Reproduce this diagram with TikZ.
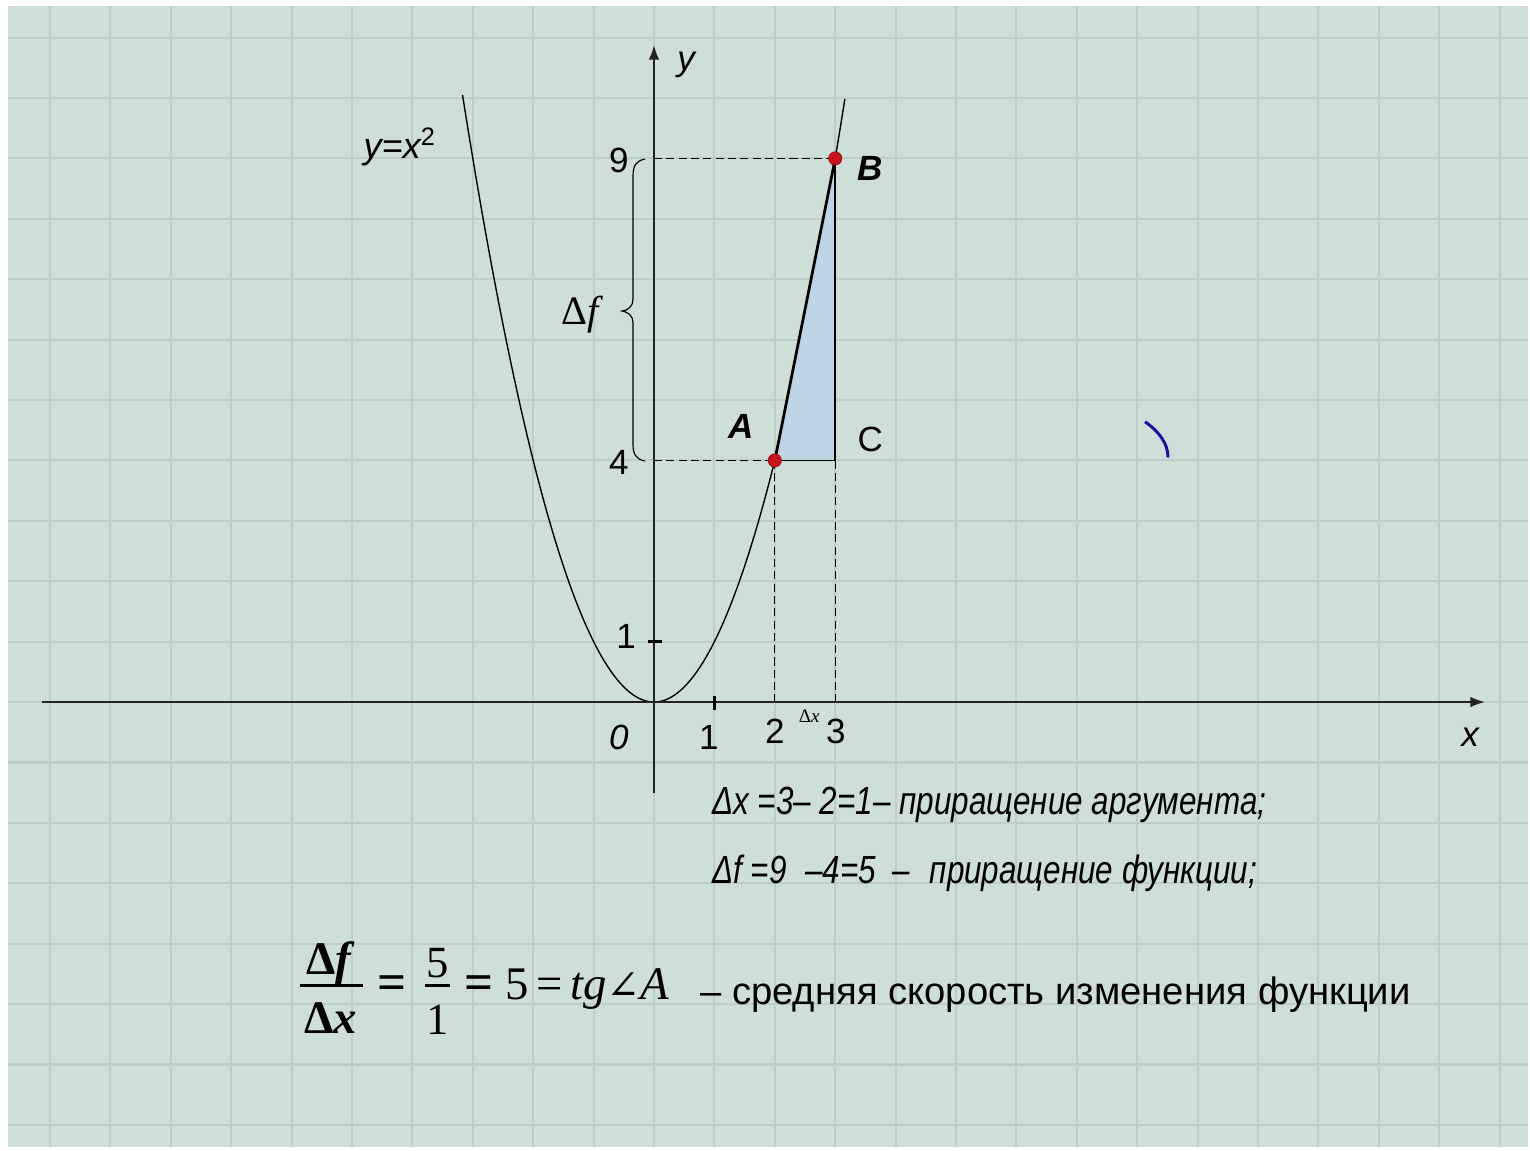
\documentclass[tikz,border=0pt]{standalone}
\usepackage{fontspec}
\setmainfont{Liberation Serif}
\newfontfamily\sansf{Liberation Sans}
\newfontfamily\narrowf[FakeStretch=0.8]{Liberation Sans}
\newfontfamily\djvf{DejaVu Serif}
\usetikzlibrary{arrows.meta}
\definecolor{bgc}{RGB}{206,222,217}
\definecolor{gridc}{RGB}{189,206,201}
\definecolor{axisc}{RGB}{35,35,35}
\definecolor{dotred}{RGB}{200,20,30}
\definecolor{trifill}{RGB}{190,212,228}
\definecolor{arcblue}{RGB}{20,20,160}
\begin{document}
\begin{tikzpicture}[x=1cm,y=1cm,
  gridline/.style={draw=gridc, line width=1.0pt},
  axisline/.style={draw=axisc, line width=1.0pt, -{Latex[length=7pt,width=5pt]}},
  curveline/.style={draw=black, line width=0.65pt},
  guide/.style={draw=black, line width=0.6pt, dash pattern=on 3.8pt off 2pt},
  side/.style={draw=black, line width=0.75pt},
  secant/.style={draw=black, line width=1.3pt},
  tickmark/.style={draw=black, line width=1.4pt},
  dot/.style={circle, fill=dotred, draw=dotred!70!black, line width=0.3pt, minimum size=0.22cm, inner sep=0pt},
  num/.style={font=\sansf\fontsize{16.5}{18}\selectfont, inner sep=0pt},
  numit/.style={font=\sansf\itshape\fontsize{16.5}{18}\selectfont, inner sep=0pt},
  ptlbl/.style={font=\sansf\bfseries\itshape\fontsize{16.5}{18}\selectfont, inner sep=0pt},
  narrowtxt/.style={font=\narrowf\itshape\fontsize{18.5}{20}\selectfont, inner sep=0pt, anchor=base west},
  fracpart/.style={font=\fontsize{21}{23}\selectfont, inner sep=0pt},
  eqbig/.style={font=\bfseries\fontsize{24}{26}\selectfont, inner sep=0pt},
  fracbar/.style={draw=black, line width=1.4pt}
]
\useasboundingbox (-10.828,-7.417) rectangle (14.503,11.623);
\fill[white] (-10.828,-7.417) rectangle (14.503,11.623);
\fill[bgc] (-10.695,-7.368) rectangle (14.47,11.523);
\foreach \k in {-10,...,14} \draw[gridline] (\k,-7.368) -- (\k,11.523);
\foreach \k in {-7,...,11} \draw[gridline] (-10.695,\k) -- (14.47,\k);

% key points
\coordinate (O) at (0,0);
\coordinate (A) at (2,4);
\coordinate (B) at (3,9);
\coordinate (C) at (3,4);
\coordinate (Y9) at (0,9);
\coordinate (Y4) at (0,4);
\coordinate (X2) at (2,0);
\coordinate (X3) at (3,0);

% parabola (drawn first, the triangle covers its arc between A and B)
\draw[curveline] plot[domain=-3.17:3.16, samples=120] (\x,{\x*\x});

% triangle
\fill[trifill] (A) -- (B) -- (C) -- cycle;

% axes
\coordinate (xs) at (-10.13,0);
\coordinate (xe) at (13.76,0);
\coordinate (ys) at (0,-1.51);
\coordinate (ye) at (0,10.88);
\draw[axisline] (xs) -- (xe);
\draw[axisline] (ys) -- (ye);

% ticks
\draw[tickmark] (1,0.1) -- (1,-0.13);
\draw[tickmark] (-0.1,1) -- (0.13,1);

% guides
\draw[guide] (Y9) -- (B);
\draw[guide] (Y4) -- (A);
\draw[guide] (A) -- (X2);
\draw[guide] (C) -- (X3);

% triangle sides
\draw[side] (A) -- (C) -- (B);
\draw[secant] (A) -- (B);

% points
\node[dot] (dA) at (A) {};
\node[dot] (dB) at (B) {};

% brace
\draw[curveline, line width=0.55pt] (-0.149,8.99) .. controls (-0.3,8.96) and (-0.348,8.88) .. (-0.348,8.70)
  -- (-0.348,6.66) .. controls (-0.348,6.55) and (-0.44,6.48) .. (-0.53,6.474)
  .. controls (-0.44,6.46) and (-0.348,6.40) .. (-0.348,6.29)
  -- (-0.348,4.28) .. controls (-0.348,4.10) and (-0.3,4.02) .. (-0.149,3.99);

% blue arc
\draw[arcblue, line width=1.4pt] (8.13,4.64) .. controls (8.36,4.48) and (8.51,4.28) .. (8.51,4.05);

% axis labels
\node[numit] (ly) at (0.53,10.55) {y};
\node[numit] (lx) at (13.51,-0.58) {x};
\node[numit] (l0) at (-0.58,-0.58) {0};
\node[num] (lx1) at (0.91,-0.58) {1};
\node[num] (lx2) at (2.0,-0.48) {2};
\node[num] (lx3) at (3.01,-0.48) {3};
\node[inner sep=0pt, font=\fontsize{9}{10}\selectfont] (ldx) at (2.57,-0.23) {Δ\textit{x}};
\node[num] (ly1) at (-0.46,1.09) {1};
\node[num] (ly4) at (-0.58,3.96) {4};
\node[num] (ly9) at (-0.58,8.97) {9};

\node[ptlbl] (lB) at (3.58,8.84) {B};
\node[ptlbl] (lA) at (1.44,4.57) {A};
\node[num] (lC) at (3.58,4.34) {C};

\node[inner sep=0pt, font=\sansf\itshape\fontsize{17}{19}\selectfont] (lfun) at (-4.21,9.19) {y=x\textsuperscript{\upshape 2}};
\node[inner sep=0pt, font=\fontsize{19}{21}\selectfont] (ldf) at (-1.19,6.42) {Δ\textit{f}};

% text lines
\node[narrowtxt] (t1) at (0.96,-1.87) {Δx =3– 2=1– приращение аргумента;};
\node[narrowtxt] (t2) at (0.96,-3.01) {Δf =9\hspace{0.25em} –4=5\hspace{0.2em} –\hspace{0.5em}приращение функции;};

% formula
\node[fracpart, font=\bfseries\fontsize{22}{24}\selectfont] (n1) at (-5.35,-4.32) {Δ\textit{f}};
\draw[fracbar] (-5.86,-4.70) -- (-4.82,-4.70);
\node[fracpart, font=\bfseries\fontsize{22}{24}\selectfont] (d1) at (-5.35,-5.23) {Δ\textit{x}};
\node[eqbig] (e1) at (-4.33,-4.72) {=};
\node[fracpart] (n2) at (-3.59,-4.32) {5};
\draw[fracbar] (-3.79,-4.70) -- (-3.38,-4.70);
\node[fracpart] (d2) at (-3.59,-5.26) {1};
\node[eqbig] (e2) at (-2.90,-4.72) {=};
\node[inner sep=0pt, anchor=base west, font=\fontsize{22}{24}\selectfont] (rest) at (-2.47,-4.93) {5\,=\,\textit{tg}{\djvf\fontsize{19}{21}\selectfont ∠}\textit{A}};
\node[inner sep=0pt, anchor=base west, font=\sansf\fontsize{18}{20}\selectfont] (t3) at (0.76,-5.0) {– средняя скорость изменения функции};
\end{tikzpicture}
\end{document}
